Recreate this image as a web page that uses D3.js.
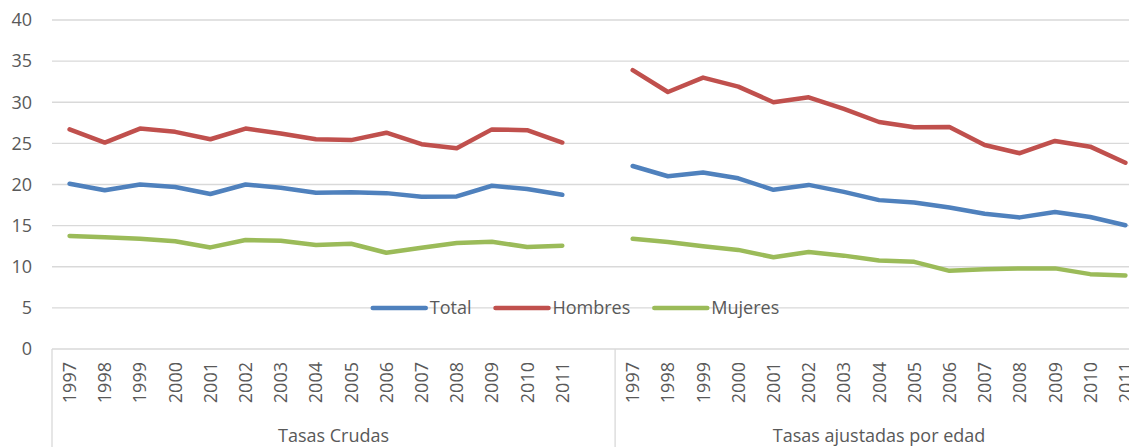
<!DOCTYPE html>
<html>
<head>
<meta charset="utf-8">
<script src="https://cdn.jsdelivr.net/npm/d3@7"></script>
<style>
  body { margin: 0; background: #fff; }
  text { font-family: "Open Sans", sans-serif; fill: #595959; }
</style>
</head>
<body>
<svg id="chart"></svg>
<script>
// chart values
const years = ['1997', '1998', '1999', '2000', '2001', '2002', '2003', '2004',
    '2005', '2006', '2007', '2008', '2009', '2010', '2011'];
const groups = ['Tasas Crudas', 'Tasas ajustadas por edad'];
const seriesNames = ['Total', 'Hombres', 'Mujeres'];
const yTicks = [0, 5, 10, 15, 20, 25, 30, 35, 40];

const totalCrudas = [20.1, 19.3, 20.0, 19.7, 18.85, 20.0, 19.6, 19.0, 19.05, 18.95, 18.5, 18.55, 19.85, 19.45, 18.75];
const hombresCrudas = [26.7, 25.1, 26.8, 26.4, 25.5, 26.8, 26.2, 25.5, 25.4, 26.3, 24.9, 24.4, 26.7, 26.6, 25.1];
const mujeresCrudas = [13.75, 13.6, 13.4, 13.1, 12.35, 13.25, 13.15, 12.65, 12.8, 11.7, 12.3, 12.9, 13.05, 12.4, 12.55];

const totalAjustadas = [22.25, 21.0, 21.45, 20.75, 19.35, 19.95, 19.1, 18.1, 17.8, 17.2, 16.45, 16.0, 16.65, 16.05, 15.05];
const hombresAjustadas = [33.9, 31.25, 33.0, 31.9, 30.0, 30.6, 29.2, 27.6, 26.95, 27.0, 24.8, 23.8, 25.3, 24.6, 22.65];
const mujeresAjustadas = [13.4, 13.0, 12.5, 12.05, 11.15, 11.8, 11.35, 10.75, 10.6, 9.5, 9.7, 9.8, 9.8, 9.1, 8.95];

const colors = ['#4f81bd', '#c0504d', '#9bbb59'];

// base settings
const width = 1129;
const height = 447;
const plotLeft = 52, plotTop = 20, plotBottom = 349, plotRight = 1143;

const svg = d3.select('#chart').attr('width', width).attr('height', height);

// categories: group 1 has 15 years plus one empty slot, then group 2
const cats = [];
years.forEach(yr => cats.push({ key: 'c' + yr, label: yr, group: 0 }));
cats.push({ key: 'gap', label: '', group: 0 });
years.forEach(yr => cats.push({ key: 'a' + yr, label: yr, group: 1 }));

const x = d3.scaleBand().domain(cats.map(c => c.key)).range([plotLeft, plotRight]);
const y = d3.scaleLinear().domain([0, 40]).range([plotBottom, plotTop]);

// gridlines
svg.append('g').selectAll('line')
    .data(yTicks.filter(t => t > 0))
    .enter().append('line')
    .attr('x1', plotLeft).attr('x2', plotRight)
    .attr('y1', d => y(d)).attr('y2', d => y(d))
    .style('stroke', '#d9d9d9').style('stroke-width', 1.3);

// y labels
svg.append('g').selectAll('text')
    .data(yTicks)
    .enter().append('text')
    .attr('x', 32).attr('y', d => y(d)).attr('dy', '0.35em')
    .attr('text-anchor', 'end')
    .style('font-size', '18px')
    .text(d => d);

// category axis lines
const groupEdges = [plotLeft, x('a1997'), plotRight];
svg.append('line')
    .attr('x1', plotLeft).attr('x2', plotRight).attr('y1', plotBottom).attr('y2', plotBottom)
    .style('stroke', '#d9d9d9').style('stroke-width', 1.3);
svg.append('g').selectAll('line')
    .data(groupEdges)
    .enter().append('line')
    .attr('x1', d => d).attr('x2', d => d)
    .attr('y1', plotBottom).attr('y2', height)
    .style('stroke', '#d9d9d9').style('stroke-width', 1.3);

// year labels
svg.append('g').selectAll('text')
    .data(cats.filter(c => c.label))
    .enter().append('text')
    .attr('transform', d => `translate(${x(d.key) + x.bandwidth() / 2},362) rotate(-90)`)
    .attr('text-anchor', 'end')
    .attr('dy', '0.36em')
    .style('font-size', '18px')
    .text(d => d.label);

// group labels
svg.append('g').selectAll('text')
    .data(groups)
    .enter().append('text')
    .attr('x', (d, i) => (groupEdges[i] + groupEdges[i + 1]) / 2)
    .attr('y', 442)
    .attr('text-anchor', 'middle')
    .style('font-size', '18px')
    .text(d => d);

// lines
const line = d3.line()
    .x(d => x(d.key) + x.bandwidth() / 2)
    .y(d => y(d.value));

const seriesData = [
    [totalCrudas, totalAjustadas],
    [hombresCrudas, hombresAjustadas],
    [mujeresCrudas, mujeresAjustadas]
];

seriesData.forEach((pair, si) => {
    pair.forEach((vals, gi) => {
        const pts = years.map((yr, i) => ({ key: (gi === 0 ? 'c' : 'a') + yr, value: vals[i] }));
        svg.append('path')
            .datum(pts)
            .attr('d', line)
            .style('fill', 'none')
            .style('stroke', colors[si])
            .style('stroke-width', 4.5)
            .style('stroke-linecap', 'round')
            .style('stroke-linejoin', 'round');
    });
});

// legend
const legend = svg.append('g');
const legendY = 308;
let lx = 0;
seriesNames.forEach((name, i) => {
    const g = legend.append('g').attr('transform', `translate(${lx},0)`);
    g.append('line')
        .attr('x1', 2).attr('x2', 55).attr('y1', legendY).attr('y2', legendY)
        .style('stroke', colors[i]).style('stroke-width', 4.5)
        .style('stroke-linecap', 'round');
    const t = g.append('text')
        .attr('x', 59).attr('y', legendY).attr('dy', '0.35em')
        .style('font-size', '18px')
        .text(name);
    lx += 59 + t.node().getComputedTextLength() + 22;
});
const legendWidth = lx - 22;
legend.attr('transform', `translate(${575 - legendWidth / 2},0)`);
</script>
</body>
</html>
